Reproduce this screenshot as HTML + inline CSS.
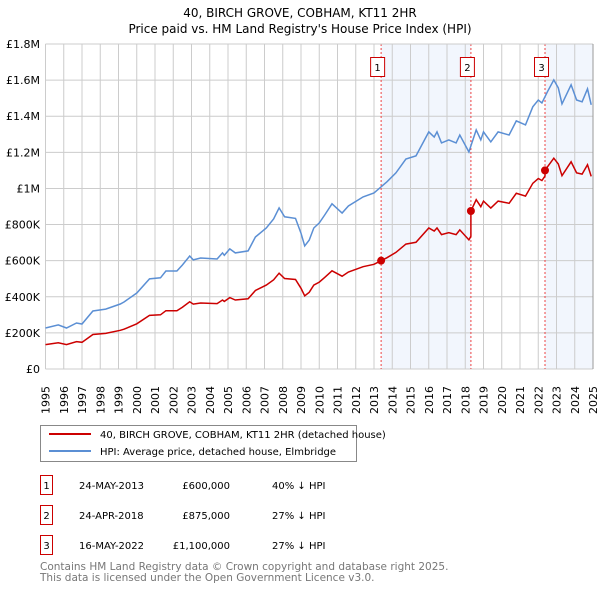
<!DOCTYPE html>
<html><head><meta charset="utf-8"><style>
body{margin:0;background:#fff;font-family:"DejaVu Sans","Liberation Sans",sans-serif;}
svg text{font-family:"DejaVu Sans","Liberation Sans",sans-serif;}
</style></head><body>
<svg id="chart" width="600" height="590" xmlns="http://www.w3.org/2000/svg">
<text x="300" y="17" text-anchor="middle" font-size="12">40, BIRCH GROVE, COBHAM, KT11 2HR</text>
<text x="300" y="33" text-anchor="middle" font-size="12">Price paid vs. HM Land Registry's House Price Index (HPI)</text>
<g id="plot"></g>
<g>
<rect x="40.5" y="425.5" width="316" height="36" fill="#fff" stroke="#888"/>
<line x1="49" y1="434" x2="91" y2="434" stroke="#cc0000" stroke-width="2"/>
<text x="100" y="438" font-size="10">40, BIRCH GROVE, COBHAM, KT11 2HR (detached house)</text>
<line x1="49" y1="451" x2="91" y2="451" stroke="#5b8fd4" stroke-width="2"/>
<text x="100" y="455" font-size="10">HPI: Average price, detached house, Elmbridge</text>
</g>
<g id="table" font-size="10"></g>
<text x="40" y="570" font-size="10.5" fill="#777">Contains HM Land Registry data © Crown copyright and database right 2025.</text>
<text x="40" y="581" font-size="10.5" fill="#777">This data is licensed under the Open Government Licence v3.0.</text>
</svg>
<script>
const hpiYears=[1995.0,1995.7,1996.15,1996.7,1997.0,1997.6,1998.3,1999.1,1999.3,2000.0,2000.7,2001.3,2001.6,2002.2,2002.5,2002.9,2003.1,2003.5,2004.4,2004.7,2004.8,2005.1,2005.4,2006.1,2006.5,2007.1,2007.5,2007.8,2008.1,2008.7,2009.0,2009.2,2009.45,2009.7,2010.0,2010.3,2010.7,2011.25,2011.6,2012.4,2013.0,2013.7,2014.2,2014.75,2015.3,2016.0,2016.3,2016.45,2016.7,2017.1,2017.5,2017.7,2018.2,2018.6,2018.85,2019.0,2019.4,2019.8,2020.4,2020.8,2021.3,2021.7,2022.0,2022.2,2022.5,2022.85,2023.1,2023.3,2023.8,2024.1,2024.4,2024.7,2024.9];
const hpiValues=[227,244,227,255,249,321,332,360,371,421,499,505,543,543,576,626,604,615,609,643,630,665,643,654,731,781,831,892,843,834,752,682,714,781,809,853,915,864,903,953,975,1036,1086,1163,1180,1313,1285,1313,1252,1269,1252,1296,1202,1324,1269,1313,1258,1313,1296,1374,1352,1452,1490,1474,1535,1601,1557,1468,1574,1490,1480,1552,1463];
const saleLabels=["1","2","3"];
const saleDates=[2013.39,2018.31,2022.37];
const salePrices=[600,875,1100];
const saleDateText=["24-MAY-2013","24-APR-2018","16-MAY-2022"];
const salePriceText=["£600,000","£875,000","£1,100,000"];
const saleHpiText=["40% ↓ HPI","27% ↓ HPI","27% ↓ HPI"];
const yTicks=[0,200,400,600,800,1000,1200,1400,1600,1800];
const yTickLabels=["£0","£200K","£400K","£600K","£800K","£1M","£1.2M","£1.4M","£1.6M","£1.8M"];
const xTicks=[1995,1996,1997,1998,1999,2000,2001,2002,2003,2004,2005,2006,2007,2008,2009,2010,2011,2012,2013,2014,2015,2016,2017,2018,2019,2020,2021,2022,2023,2024,2025];

const NS="http://www.w3.org/2000/svg";
const X0=45.5,X1=593,Y0=369,Y1=44;
const xs=t=>X0+(t-1995)/30*(X1-X0);
const ys=v=>Y0-v/1800*(Y0-Y1);
function mk(p,tag,at){const e=document.createElementNS(NS,tag);for(const k in at)e.setAttribute(k,at[k]);p.appendChild(e);return e;}
function hpiAt(t){for(let i=1;i<hpiYears.length;i++){if(t<=hpiYears[i]){const f=(t-hpiYears[i-1])/(hpiYears[i]-hpiYears[i-1]);return hpiValues[i-1]+f*(hpiValues[i]-hpiValues[i-1]);}}return hpiValues[hpiValues.length-1];}
const plot=document.getElementById('plot');
// shading
for(const [a,b] of [[0,1],[2,null]]){
 const x1=xs(saleDates[a]),x2=b===null?X1:xs(saleDates[b]);
 const r=mk(plot,'rect',{x:x1,y:Y1,width:x2-x1,height:Y0-Y1,fill:'#eef3fc',opacity:0.75});
 
 
}
xTicks.forEach(t=>{const l=mk(plot,'line',{x1:xs(t),x2:xs(t),y1:Y1,y2:Y0,stroke:'#cccccc','stroke-width':1});
 
 const tx=mk(plot,'text',{transform:`translate(${xs(t)+4},${Y0+45}) rotate(-90)`,'font-size':11});tx.textContent=t;
 });
yTicks.forEach((v,i)=>{const l=mk(plot,'line',{x1:X0,x2:X1,y1:ys(v),y2:ys(v),stroke:'#cccccc','stroke-width':1});
 
 const tx=mk(plot,'text',{x:40,y:ys(v)+4,'text-anchor':'end','font-size':11});tx.textContent=yTickLabels[i];
 });
// vlines and labels
saleDates.forEach((d,i)=>{const x=xs(d);
 const l=mk(plot,'line',{x1:x,x2:x,y1:Y1,y2:Y0,stroke:'#ee4444','stroke-width':1,'stroke-dasharray':'2,2'});
 
 const b=mk(plot,'rect',{x:x-10.5,y:57.5,width:14,height:19,fill:'#fff',stroke:'#cc0000'});
 
 const t=mk(plot,'text',{x:x-3.5,y:71,'text-anchor':'middle','font-size':10});t.textContent=saleLabels[i];});
// HPI line
let d='';hpiYears.forEach((t,i)=>{d+=(i?'L':'M')+xs(t).toFixed(1)+','+ys(hpiValues[i]).toFixed(1);});
const hl=mk(plot,'path',{d:d,fill:'none',stroke:'#5b8fd4','stroke-width':1.5});

// property line derived from HPI and sales
const pts=[];
const allT=hpiYears.concat(saleDates).sort((a,b)=>a-b);
allT.forEach(t=>{let k=0;for(let j=0;j<saleDates.length;j++)if(saleDates[j]<=t)k=j;
 pts.push([t,hpiAt(t)*salePrices[k]/hpiAt(saleDates[k])]);
 const si=saleDates.indexOf(t);if(si>0)pts.splice(pts.length-1,0,[t,hpiAt(t)*salePrices[si-1]/hpiAt(saleDates[si-1])]);});
let d2='';pts.forEach((p,i)=>{d2+=(i?'L':'M')+xs(p[0]).toFixed(1)+','+ys(p[1]).toFixed(1);});
const pl=mk(plot,'path',{d:d2,fill:'none',stroke:'#cc0000','stroke-width':1.5});

saleDates.forEach((t,i)=>{const c=mk(plot,'circle',{cx:xs(t),cy:ys(salePrices[i]),r:4,fill:'#cc0000'});
 });
mk(plot,'line',{x1:X0,x2:X1,y1:Y1,y2:Y1,stroke:'#cccccc'});
mk(plot,'line',{x1:X1,x2:X1,y1:Y1,y2:Y0,stroke:'#999'});
// table
const tb=document.getElementById('table');
saleDates.forEach((t,i)=>{const y=483+i*30;
 const g=mk(tb,'g',{});
 mk(g,'rect',{x:40.5,y:y-7.5,width:12,height:19,fill:'#fff',stroke:'#cc0000'});
 let e=mk(g,'text',{x:46.5,y:y+6,'text-anchor':'middle'});e.textContent=saleLabels[i];
 e=mk(g,'text',{x:79,y:y+6});e.textContent=saleDateText[i];
 e=mk(g,'text',{x:230,y:y+6,'text-anchor':'end'});e.textContent=salePriceText[i];
 e=mk(g,'text',{x:272,y:y+6});e.textContent=saleHpiText[i];});
</script>
</body></html>
